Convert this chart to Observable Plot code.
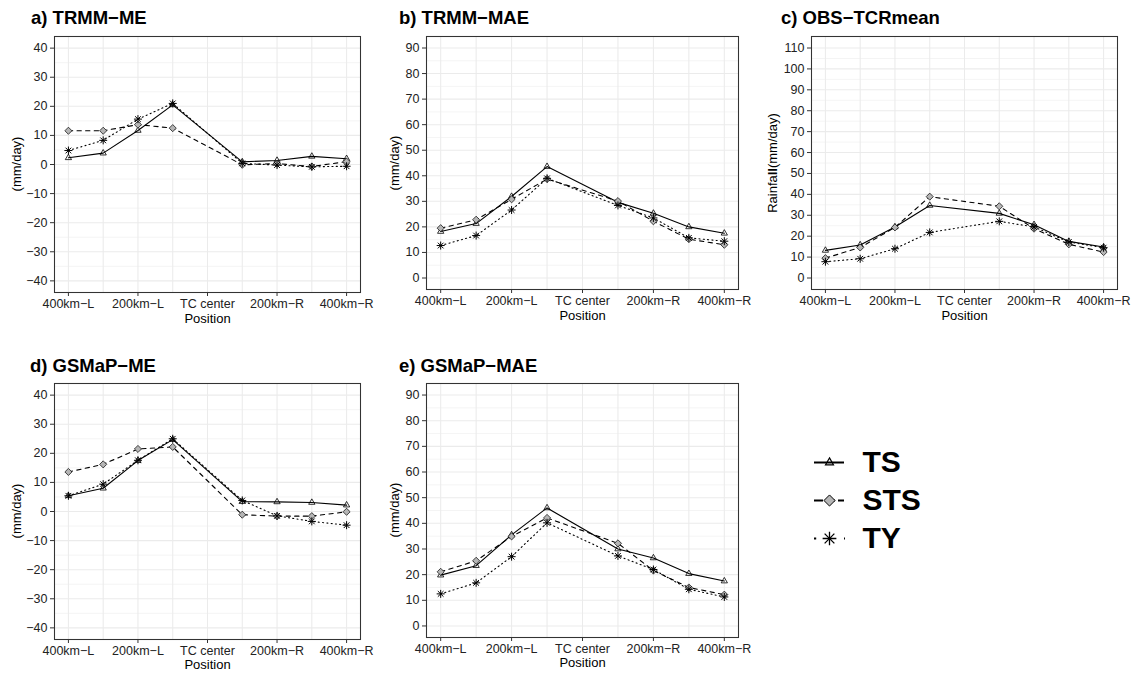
<!DOCTYPE html>
<html><head><meta charset="utf-8">
<script src="https://cdn.jsdelivr.net/npm/d3@7"></script>
<script src="https://cdn.jsdelivr.net/npm/@observablehq/plot@0.6"></script>
<style>
body{margin:0;background:#fff;font-family:"Liberation Sans",Arial,sans-serif;}
#wrap{position:relative;width:1137px;height:673px;overflow:hidden;background:#fff;}
.panel{position:absolute;overflow:visible;}
.title{position:absolute;font-weight:bold;font-size:18.5px;color:#000;white-space:nowrap;line-height:1;}
.ylab{position:absolute;font-size:13px;color:#000;white-space:nowrap;transform:translate(-50%,-50%) rotate(-90deg);line-height:1;}
</style></head><body><div id="wrap"></div>
<script>
// ---- data ----
const positions = [1, 2, 3, 4, 6, 7, 8, 9];
const tickPositions = [1, 3, 5, 7, 9];
const tickLabels = ["400km−L", "200km−L", "TC center", "200km−R", "400km−R"];
const seriesNames = ["TS", "STS", "TY"];

const trmmME_TS  = [2.3, 3.9, 11.7, 20.5, 0.9, 1.4, 2.8, 2.0];
const trmmME_STS = [11.6, 11.6, 13.7, 12.5, -0.1, 0.3, -0.7, 1.0];
const trmmME_TY  = [4.8, 8.3, 15.6, 21.0, 0.4, -0.2, -0.8, -0.6];

const trmmMAE_TS  = [18.2, 21.3, 31.9, 43.6, 29.6, 25.3, 20.0, 17.5];
const trmmMAE_STS = [19.5, 22.8, 30.8, 38.7, 30.1, 22.2, 15.2, 13.0];
const trmmMAE_TY  = [12.7, 16.6, 26.6, 39.0, 28.4, 23.5, 15.7, 14.4];

const obs_TS  = [13.2, 15.8, 24.4, 34.7, 30.9, 25.5, 17.5, 14.8];
const obs_STS = [9.5, 14.6, 24.2, 38.9, 34.3, 23.6, 16.1, 12.4];
const obs_TY  = [7.8, 9.2, 14.0, 21.8, 27.1, 24.4, 17.2, 14.5];

const gsmapME_TS  = [5.4, 8.0, 17.5, 24.7, 3.4, 3.3, 3.1, 2.2];
const gsmapME_STS = [13.6, 16.2, 21.5, 22.2, -1.1, -1.6, -1.6, -0.1];
const gsmapME_TY  = [5.4, 9.4, 17.6, 25.0, 3.8, -1.5, -3.4, -4.7];

const gsmapMAE_TS  = [19.8, 23.5, 35.5, 46.0, 30.0, 26.5, 20.4, 17.5];
const gsmapMAE_STS = [21.1, 25.4, 34.9, 42.1, 32.2, 21.6, 15.0, 12.2];
const gsmapMAE_TY  = [12.5, 16.8, 27.0, 40.2, 27.3, 22.0, 14.3, 11.3];

const wrap = document.getElementById("wrap");
const fmt = d => d < 0 ? "−" + Math.abs(d) : String(d);

function panel(cfg) {
  const rows = [];
  seriesNames.forEach((s, i) => cfg.values[i].forEach((v, j) => rows.push({series: s, x: positions[j], y: v})));
  const sub = s => rows.filter(d => d.series === s);
  const major = d3.range(cfg.yTicks[0], cfg.yTicks[1] + 1, 10);
  const minor = major.map(v => v + 5).filter(v => v > cfg.yDomain[0] && v < cfg.yDomain[1] && v < cfg.yTicks[1]);
  const gridX = d3.range(1, 10);
  const width = cfg.marginLeft + cfg.frameW + cfg.marginRight;
  const height = cfg.marginTop + cfg.frameH + cfg.marginBottom;
  const chart = Plot.plot({
    width, height,
    marginLeft: cfg.marginLeft, marginRight: cfg.marginRight,
    marginTop: cfg.marginTop, marginBottom: cfg.marginBottom,
    style: {fontFamily: "'Liberation Sans', Arial, sans-serif", color: "#222", background: "transparent", overflow: "visible"},
    x: {domain: [0.6, 9.4]},
    y: {domain: cfg.yDomain},
    marks: [
      Plot.ruleY(minor, {stroke: "#ebebeb", strokeWidth: 0.55}),
      Plot.ruleY(major, {stroke: "#ebebeb", strokeWidth: 1.07}),
      Plot.ruleX(gridX, {stroke: "#ebebeb", strokeWidth: 1.07}),
      Plot.frame({stroke: "#333", strokeWidth: 1.07}),
      Plot.axisX({ticks: tickPositions, tickFormat: d => tickLabels[tickPositions.indexOf(d)],
        tickSize: 4, tickPadding: 3, fontSize: 12.5, label: null, stroke: "#333", fill: "#222"}),
      Plot.axisY({ticks: major, tickFormat: fmt, tickSize: 4, tickPadding: 3, fontSize: 12.5,
        label: null, stroke: "#333", fill: "#222"}),
      Plot.line(sub("TS"), {x: "x", y: "y", stroke: "#000", strokeWidth: 1.1}),
      Plot.line(sub("STS"), {x: "x", y: "y", stroke: "#000", strokeWidth: 1.1, strokeDasharray: "4.3,4.3"}),
      Plot.line(sub("TY"), {x: "x", y: "y", stroke: "#000", strokeWidth: 1.1, strokeDasharray: "1.1,3.2"}),
      Plot.dot(sub("TS"), {x: "x", y: "y", symbol: "triangle2", r: 3, stroke: "#000", fill: "none", strokeWidth: 0.8}),
      Plot.dot(sub("STS"), {x: "x", y: "y", symbol: "diamond2", r: 3.2, stroke: "#000", fill: "#b5b5b5", strokeWidth: 0.7}),
      Plot.dot(sub("TY"), {x: "x", y: "y", symbol: "plus", r: 2.7, stroke: "#000", strokeWidth: 1}),
      Plot.dot(sub("TY"), {x: "x", y: "y", symbol: "times", r: 2.7, stroke: "#000", strokeWidth: 1}),
      Plot.text(["Position"], {frameAnchor: "bottom", dy: cfg.posDy, fontSize: 13, fill: "#000"})
    ]
  });
  chart.classList.add("panel");
  chart.style.left = cfg.left + "px";
  chart.style.top = cfg.top + "px";
  wrap.appendChild(chart);

  const t = document.createElement("div");
  t.className = "title";
  t.textContent = cfg.title;
  t.style.left = cfg.titleX + "px";
  t.style.top = cfg.titleY + "px";
  wrap.appendChild(t);

  const yl = document.createElement("div");
  yl.className = "ylab";
  yl.innerHTML = cfg.ylab;
  yl.style.left = cfg.ylabX + "px";
  yl.style.top = (cfg.top + cfg.marginTop + cfg.frameH / 2) + "px";
  wrap.appendChild(yl);
}

panel({title: "a) TRMM−ME", titleX: 31, titleY: 9, values: [trmmME_TS, trmmME_STS, trmmME_TY],
  yDomain: [-44, 44], yTicks: [-40, 40], left: 0, top: 30, marginLeft: 54, marginRight: 24, frameW: 306,
  marginTop: 6, frameH: 256, marginBottom: 40, posDy: 30, ylab: "(mm/day)", ylabX: 16});
panel({title: "b) TRMM−MAE", titleX: 399, titleY: 9, values: [trmmMAE_TS, trmmMAE_STS, trmmMAE_TY],
  yDomain: [-4.5, 94.5], yTicks: [0, 90], left: 380, top: 30, marginLeft: 46, marginRight: 24, frameW: 312,
  marginTop: 6, frameH: 253, marginBottom: 40, posDy: 30, ylab: "(mm/day)", ylabX: 394});
panel({title: "c) OBS−TCRmean", titleX: 781, titleY: 9, values: [obs_TS, obs_STS, obs_TY],
  yDomain: [-5.5, 115.5], yTicks: [0, 110], left: 760, top: 30, marginLeft: 51, marginRight: 20, frameW: 306,
  marginTop: 6, frameH: 253, marginBottom: 40, posDy: 30, ylab: "Rainfa<b>ll</b>(mm/day)", ylabX: 772});
panel({title: "d) GSMaP−ME", titleX: 30, titleY: 357, values: [gsmapME_TS, gsmapME_STS, gsmapME_TY],
  yDomain: [-44, 44], yTicks: [-40, 40], left: 0, top: 377, marginLeft: 54, marginRight: 24, frameW: 306,
  marginTop: 6, frameH: 256, marginBottom: 40, posDy: 29, ylab: "(mm/day)", ylabX: 16});
panel({title: "e) GSMaP−MAE", titleX: 399, titleY: 357, values: [gsmapMAE_TS, gsmapMAE_STS, gsmapMAE_TY],
  yDomain: [-4.5, 94.5], yTicks: [0, 90], left: 380, top: 377, marginLeft: 46, marginRight: 24, frameW: 312,
  marginTop: 6, frameH: 254, marginBottom: 40, posDy: 29, ylab: "(mm/day)", ylabX: 394});

// ---- legend ----
const legend = Plot.plot({
  width: 170, height: 120, marginLeft: 0, marginRight: 0, marginTop: 0, marginBottom: 0,
  style: {fontFamily: "'Liberation Sans', Arial, sans-serif", background: "transparent", overflow: "visible"},
  x: {domain: [0, 170], range: [0, 170]},
  y: {type: "point", domain: seriesNames, range: [21, 98], padding: 0},
  axis: null,
  marks: [
    Plot.ruleY(["TS"], {y: d => d, x1: 14, x2: 44, stroke: "#000", strokeWidth: 2}),
    Plot.ruleY(["STS"], {y: d => d, x1: 14, x2: 44, stroke: "#000", strokeWidth: 2, strokeDasharray: "9,3"}),
    Plot.ruleY(["TY"], {y: d => d, x1: 14, x2: 45, stroke: "#000", strokeWidth: 2.2, strokeDasharray: "2.2,12.8"}),
    Plot.dot(["TS"], {y: d => d, x: 29, symbol: "triangle2", r: 3.8, stroke: "#000", fill: "none", strokeWidth: 1.2}),
    Plot.dot(["STS"], {y: d => d, x: 29, symbol: "diamond2", r: 5, stroke: "#000", fill: "#b5b5b5", strokeWidth: 1}),
    Plot.dot(["TY"], {y: d => d, x: 29, symbol: "plus", r: 4.5, stroke: "#000", strokeWidth: 1.3}),
    Plot.dot(["TY"], {y: d => d, x: 29, symbol: "times", r: 4.5, stroke: "#000", strokeWidth: 1.3}),
    Plot.text(seriesNames, {y: d => d, x: 62, text: d => d, textAnchor: "start", fontSize: 30, fontWeight: "bold", fill: "#000"})
  ]
});
legend.classList.add("panel");
legend.style.left = "800px";
legend.style.top = "440px";
wrap.appendChild(legend);
</script></body></html>
